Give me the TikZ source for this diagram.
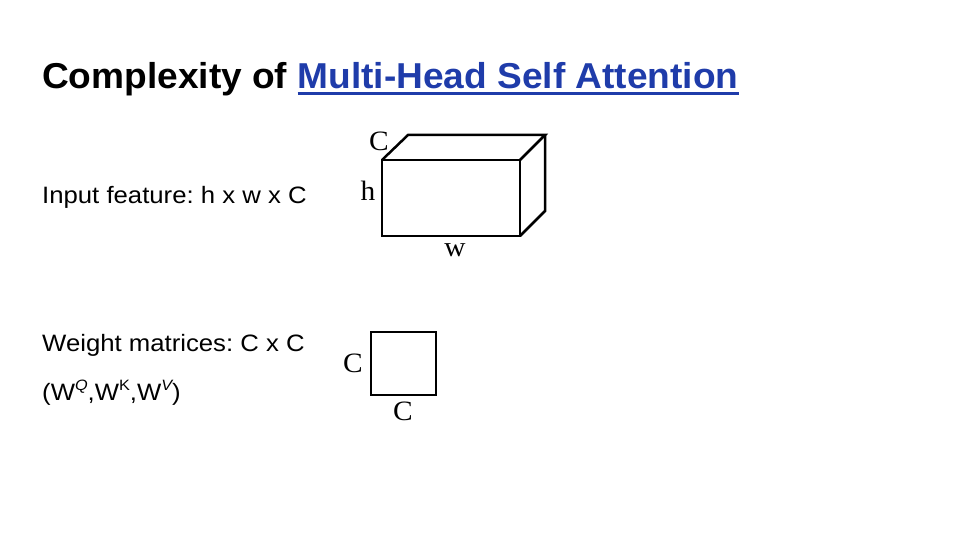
\documentclass[tikz,border=0pt]{standalone}
\usepackage{fontspec}
\setmainfont{Liberation Sans}
\newfontfamily\bodyfont[FakeStretch=1.085]{Liberation Sans}
\newfontfamily\titlefont[FakeStretch=1.03]{Liberation Sans}
\newfontfamily\labelfont[FakeStretch=1.05]{Liberation Serif}
\definecolor{linkblue}{RGB}{31,60,170}
\frenchspacing
\tikzset{
  body/.style={anchor=base west, inner sep=0pt, font=\bodyfont\fontsize{23.7}{28}\selectfont},
  ttl/.style={anchor=base west, inner sep=0pt, font=\titlefont\fontsize{36}{40}\selectfont\bfseries},
  dimlabel/.style={inner sep=0pt, font=\labelfont\fontsize{28}{32}\selectfont},
  edge/.style={line width=2.5pt, line join=miter}
}
\newcommand\supsmall[1]{\raisebox{0.4em}{\fontsize{15}{16}\selectfont #1}}
\begin{document}
\begin{tikzpicture}[x=1pt,y=-1pt]
\useasboundingbox[fill=white] (0,0) rectangle (960,540);
% title
\node[ttl] (t1) at (42,89) {Complexity of};
\node[ttl, text=linkblue] (t2) at (297.5,89) {Multi-Head Self Attention};
\draw[linkblue, line width=3pt] ([yshift=-5pt]t2.base west) -- ([yshift=-5pt]t2.base east);
% texts
\node[body] (inp) at (42,203) {Input feature: h x w x C};
\node[body] (wm) at (42,351) {Weight matrices: C x C};
\node[body] (wqkv) at (42,400) {(W\supsmall{\itshape Q},W\supsmall{\upshape K},W\supsmall{\itshape V})};
% cuboid
\coordinate (f1) at (382,160);
\coordinate (f2) at (520,160);
\coordinate (f3) at (520,236);
\coordinate (f4) at (382,236);
\coordinate (b1) at (408,135);
\coordinate (b2) at (545,135);
\coordinate (b3) at (545,211);
\draw[edge] (f1) -- (f2) -- (f3) -- (f4) -- cycle;
\draw[edge] (f1) -- (b1) -- (b2) -- (f2);
\draw[edge] (b2) -- (b3) -- (f3);
\node[dimlabel] (lc) at (379,141) {C};
\node[dimlabel] (lh) at (368,191) {h};
\node[dimlabel] (lw) at (455,250) {w};
% square
\coordinate (s1) at (371,332);
\coordinate (s3) at (436,395);
\draw[edge] (s1) rectangle (s3);
\node[dimlabel] (sc1) at (353,363) {C};
\node[dimlabel] (sc2) at (403,411) {C};
\end{tikzpicture}
\end{document}
